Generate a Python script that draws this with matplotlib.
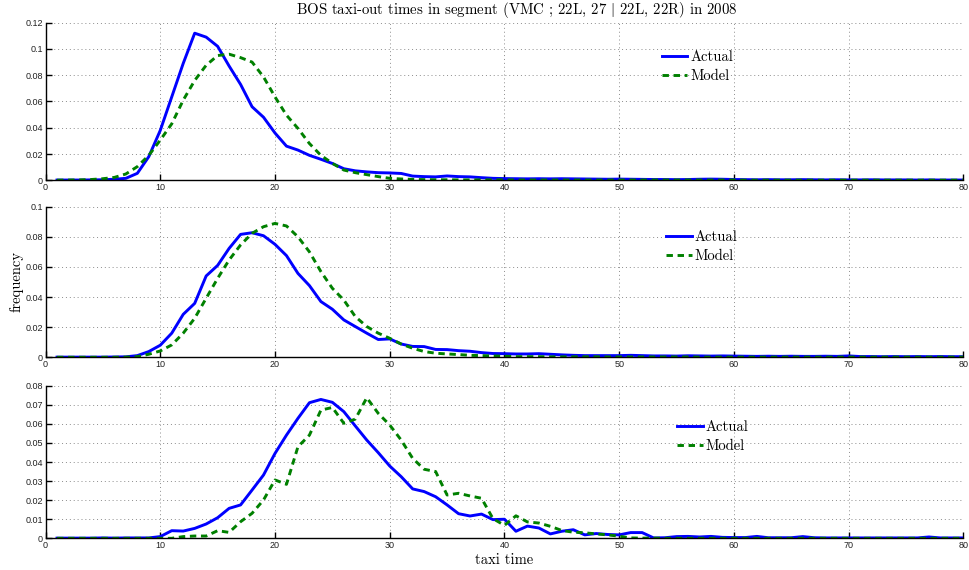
import matplotlib
matplotlib.use("Agg")
import matplotlib.pyplot as plt
import numpy as np
from matplotlib.ticker import FuncFormatter

# taxi time in minutes, one point per minute
taxi_time = list(range(1, 81))

top_actual = [0.0002, 0.0002, 0.0002, 0.0003, 0.0004, 0.0008, 0.0015, 0.0053, 0.018, 0.038,
              0.0635, 0.089, 0.112, 0.109, 0.102, 0.087, 0.073, 0.056, 0.048, 0.036,
              0.026, 0.023, 0.019, 0.016, 0.0128, 0.0088, 0.0072, 0.0064, 0.0058, 0.0056,
              0.0052, 0.0032, 0.0028, 0.0026, 0.0033, 0.0028, 0.0026, 0.002, 0.0015, 0.0013,
              0.0012, 0.0011, 0.0012, 0.0011, 0.0012, 0.0011, 0.001, 0.0009, 0.0008, 0.0009,
              0.0008, 0.0007, 0.0006, 0.0006, 0.0005, 0.0006, 0.0008, 0.0009, 0.0008, 0.0006,
              0.0005, 0.0004, 0.0005, 0.0004, 0.0004, 0.0005, 0.0004, 0.0003, 0.0004, 0.0003,
              0.0003, 0.0004, 0.0003, 0.0003, 0.0003, 0.0002, 0.0003, 0.0002, 0.0002, 0.0002]
top_model = [0.0001, 0.0002, 0.0003, 0.0006, 0.0012, 0.0022, 0.0048, 0.0104, 0.019, 0.0306,
             0.043, 0.061, 0.076, 0.0876, 0.095, 0.096, 0.0934, 0.090, 0.0787, 0.0635,
             0.0496, 0.0395, 0.028, 0.019, 0.0129, 0.0078, 0.0058, 0.0043, 0.0028, 0.0015,
             0.001, 0.0007, 0.0005, 0.0004, 0.0004, 0.0003, 0.0003, 0.0003, 0.0003, 0.0003,
             0.0002, 0.0002, 0.0002, 0.0002, 0.0002, 0.0002, 0.0002, 0.0002, 0.0002, 0.0002,
             0.0002, 0.0002, 0.0002, 0.0002, 0.0002, 0.0002, 0.0002, 0.0002, 0.0002, 0.0002,
             0.0001, 0.0001, 0.0001, 0.0001, 0.0001, 0.0001, 0.0001, 0.0001, 0.0001, 0.0001,
             0.0001, 0.0001, 0.0001, 0.0001, 0.0001, 0.0001, 0.0001, 0.0001, 0.0001, 0.0001]

mid_actual = [0.0001, 0.0001, 0.0001, 0.0001, 0.0001, 0.0002, 0.0003, 0.0011, 0.0038, 0.008,
              0.016, 0.0285, 0.0358, 0.054, 0.061, 0.0723, 0.0816, 0.0827, 0.0807, 0.075,
              0.0675, 0.0557, 0.0476, 0.037, 0.0319, 0.0248, 0.0204, 0.016, 0.0118, 0.0122,
              0.0088, 0.0072, 0.0071, 0.0052, 0.0051, 0.0044, 0.004, 0.0031, 0.0025, 0.0024,
              0.0022, 0.0022, 0.0024, 0.002, 0.0016, 0.0013, 0.0011, 0.0011, 0.0011, 0.0011,
              0.0013, 0.0011, 0.0009, 0.0009, 0.0008, 0.001, 0.0009, 0.0008, 0.0009, 0.0008,
              0.0007, 0.0006, 0.0007, 0.0006, 0.0007, 0.0006, 0.0006, 0.0007, 0.0006, 0.0009,
              0.0005, 0.0005, 0.0004, 0.0005, 0.0004, 0.0005, 0.0004, 0.0005, 0.0004, 0.0004]
mid_model = [0.0, 0.0, 0.0, 0.0, 0.0, 0.0, 0.0001, 0.0004, 0.002, 0.0042,
             0.0082, 0.016, 0.0259, 0.0392, 0.0524, 0.0646, 0.0746, 0.0823, 0.0867, 0.0889,
             0.0872, 0.080, 0.070, 0.0569, 0.0458, 0.038, 0.027, 0.0204, 0.016, 0.0126,
             0.0088, 0.006, 0.0038, 0.0027, 0.0022, 0.0018, 0.0013, 0.0011, 0.0009, 0.0007,
             0.0004, 0.0004, 0.0004, 0.0003, 0.0003, 0.0003, 0.0003, 0.0003, 0.0002, 0.0002,
             0.0002, 0.0002, 0.0002, 0.0002, 0.0002, 0.0002, 0.0001, 0.0001, 0.0001, 0.0001,
             0.0001, 0.0001, 0.0001, 0.0001, 0.0001, 0.0001, 0.0001, 0.0001, 0.0001, 0.0001,
             0.0001, 0.0001, 0.0001, 0.0001, 0.0001, 0.0001, 0.0001, 0.0001, 0.0001, 0.0001]

bot_actual = [0.0001, 0.0001, 0.0001, 0.0001, 0.0002, 0.0001, 0.0002, 0.0002, 0.0002, 0.0009,
              0.004, 0.0038, 0.0052, 0.0075, 0.0108, 0.0157, 0.0175, 0.0253, 0.0332, 0.0445,
              0.0541, 0.0629, 0.0711, 0.0728, 0.0713, 0.0664, 0.0589, 0.0515, 0.0449, 0.0379,
              0.0323, 0.0259, 0.0245, 0.0218, 0.0175, 0.0129, 0.0117, 0.0127, 0.0098, 0.01,
              0.0037, 0.0064, 0.0054, 0.0023, 0.0037, 0.0045, 0.0018, 0.0025, 0.002, 0.0018,
              0.003, 0.003, 0.0002, 0.0003, 0.0009, 0.001, 0.0007, 0.001, 0.0005, 0.0004,
              0.0004, 0.001, 0.0003, 0.0003, 0.0003, 0.0009, 0.0003, 0.0002, 0.0002, 0.0002,
              0.0002, 0.0002, 0.0002, 0.0002, 0.0002, 0.0002, 0.0007, 0.0002, 0.0002, 0.0002]
bot_model = [0.0, 0.0, 0.0, 0.0, 0.0, 0.0, 0.0, 0.0, 0.0, 0.0,
             0.0, 0.0009, 0.0012, 0.0012, 0.004, 0.0031, 0.0087, 0.0131, 0.0201, 0.0306,
             0.0283, 0.048, 0.0541, 0.0672, 0.0686, 0.0603, 0.0625, 0.0737, 0.0655, 0.0594,
             0.0515, 0.0419, 0.0362, 0.035, 0.0227, 0.0236, 0.0222, 0.021, 0.0103, 0.0068,
             0.0118, 0.0086, 0.008, 0.0063, 0.0041, 0.0032, 0.0029, 0.0023, 0.0018, 0.0011,
             0.0002, 0.0001, 0.0001, 0.0, 0.0, 0.0, 0.0, 0.0, 0.0, 0.0,
             0.0, 0.0, 0.0, 0.0, 0.0, 0.0, 0.0, 0.0, 0.0, 0.0,
             0.0, 0.0, 0.0, 0.0, 0.0, 0.0, 0.0, 0.0, 0.0, 0.0]

x_ticks = [0, 10, 20, 30, 40, 50, 60, 70, 80]
panels = [
    (top_actual, top_model, 0.12, 0.02, (0.710, 0.72)),
    (mid_actual, mid_model, 0.10, 0.02, (0.715, 0.735)),
    (bot_actual, bot_model, 0.08, 0.01, (0.727, 0.665)),
]

plt.rcParams["mathtext.fontset"] = "cm"
serif = "cmr10"

fig = plt.figure(figsize=(9.69, 5.70), dpi=100)
rects = [
    [0.0470, 0.6837, 0.9472, 0.2765],
    [0.0470, 0.3732, 0.9472, 0.2642],
    [0.0470, 0.0556, 0.9472, 0.2677],
]

axes = []
for rect, (act, mod, ymax, ystep, leg_pos) in zip(rects, panels):
    ax = fig.add_axes(rect)
    ax.plot(taxi_time, act, color="#0000ff", lw=2.1, label="Actual")
    ax.plot(taxi_time, mod, color="#008000", lw=2.1, linestyle=(0, (2.2, 1.6)), label="Model")
    ax.set_xlim(0, 80)
    ax.set_ylim(0, ymax)
    ax.set_xticks(x_ticks)
    ax.set_yticks(np.arange(0, ymax + ystep / 2, ystep))
    ax.yaxis.set_major_formatter(FuncFormatter(lambda v, p: "%g" % round(v, 4)))
    ax.grid(True, color="0.55", linestyle=(0, (1, 3)), lw=0.7)
    for s in ["top", "right"]:
        ax.spines[s].set_visible(False)
    ax.spines["left"].set_linewidth(1.0)
    ax.spines["bottom"].set_linewidth(1.0)
    ax.tick_params(direction="in", length=4.5, width=1.0, labelsize=6.5, pad=2)
    for lab in ax.get_xticklabels() + ax.get_yticklabels():
        lab.set_family("Liberation Sans")
        lab.set_color("#222222")
    leg = ax.legend(loc="center", bbox_to_anchor=leg_pos, frameon=False,
                    prop={"family": serif, "size": 10.5}, handlelength=1.75,
                    handletextpad=0.2, labelspacing=0.35)
    axes.append(ax)

fig.text(517 / 969, 1 - 10 / 570,
         "BOS taxi-out times in segment (VMC ; 22L, 27 $|$ 22L, 22R) in 2008",
         family=serif, fontsize=10.7, ha="center", va="center")
axes[1].set_ylabel("frequency", family=serif, fontsize=10.5, labelpad=1.5)
axes[2].set_xlabel("taxi time", family=serif, fontsize=10.5, labelpad=2)

fig.savefig("out.png", dpi=100)
